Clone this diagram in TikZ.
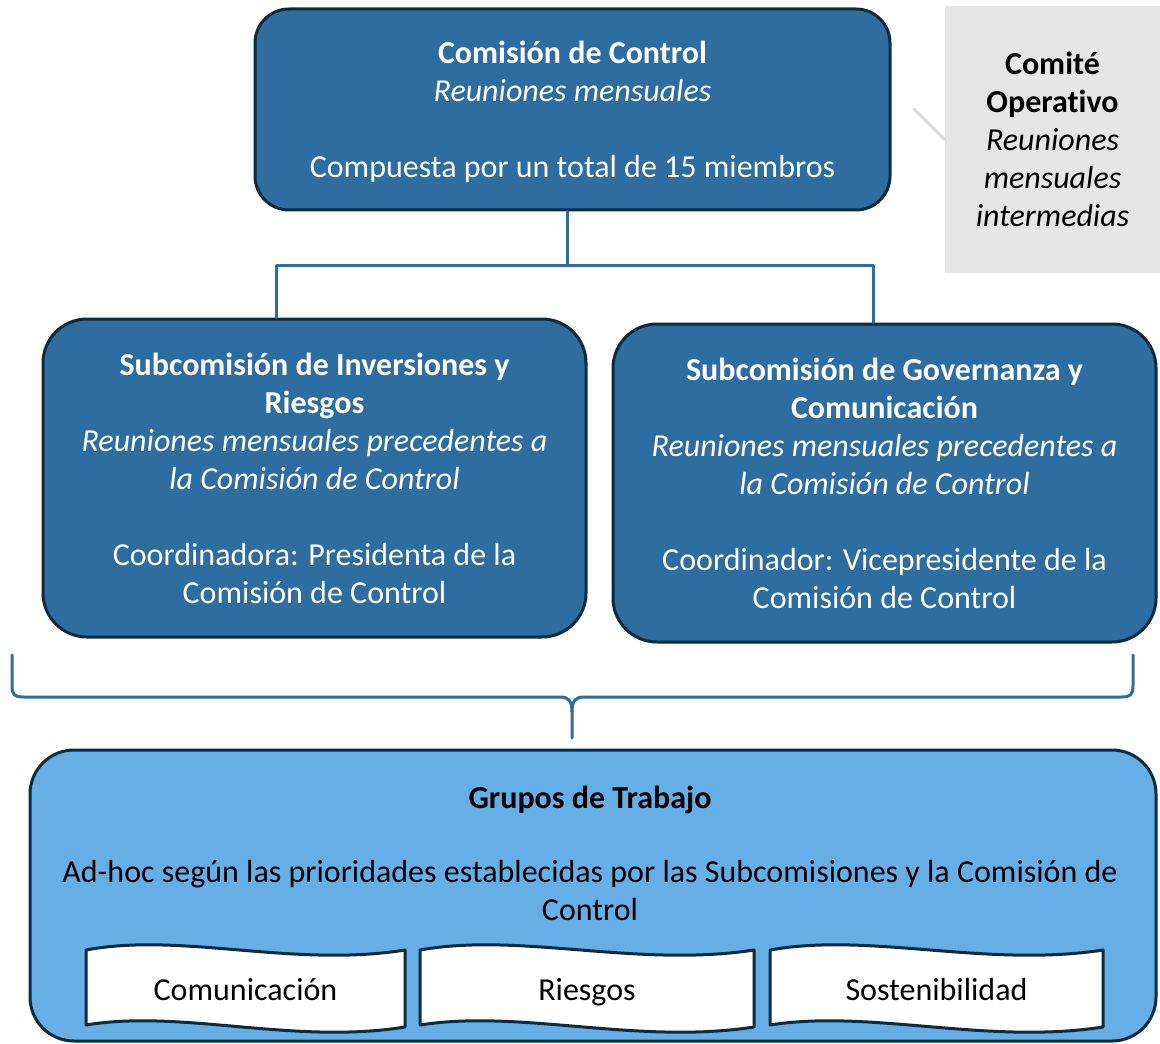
\documentclass[tikz,border=0pt]{standalone}
\usepackage{fontspec}
\setmainfont{Carlito}[RawFeature=-liga]
\usetikzlibrary{positioning,calc}
\definecolor{boxblue}{HTML}{2E6DA0}
\definecolor{edgenavy}{HTML}{0E2A3D}
\definecolor{grupblue}{HTML}{66AEE6}
\definecolor{opgray}{HTML}{E6E6E6}
\definecolor{faintgray}{HTML}{DADADA}

\begin{document}
\begin{tikzpicture}[x=0.5pt,y=-0.5pt,line cap=round,line join=round,
  every node/.style={font=\fontsize{16}{19}\selectfont,align=center,inner sep=0pt},
  bluebox/.style={draw=edgenavy,line width=1.5pt,fill=boxblue,text=white,rounded corners=22pt},
  conn/.style={draw=boxblue,line width=1.5pt},
  tape/.style={draw=edgenavy,line width=1.5pt,fill=white}]
\useasboundingbox (0,0) rectangle (1160,1043);

% Comision de Control
\node[bluebox,minimum width=317.5pt,minimum height=100.5pt,rounded corners=17pt] (cc) at (572.5,109.5) {};
\node[text=white] (cct) at (572.5,112)
  {\textbf{Comisión de Control}\\\textit{Reuniones mensuales}\\[19pt]Compuesta por un total de 15 miembros};

% Comite Operativo
\node[fill=opgray,minimum width=107.5pt,minimum height=133.5pt] (co) at (1052.5,139.5)
  {\textbf{Comité}\\\textbf{Operativo}\\\textit{Reuniones}\\\textit{mensuales}\\\textit{intermedias}};
\coordinate (fl) at (914,109);
\draw[faintgray,line width=1.5pt] (fl) -- (co.west);

% Subcomisiones
\node[bluebox,minimum width=271.5pt,minimum height=159pt] (sir) at (314.5,478)
  {\textbf{Subcomisión de Inversiones y}\\\textbf{Riesgos}\\\textit{Reuniones mensuales precedentes a}\\\textit{la Comisión de Control}\\[19pt]Coordinadora: Presidenta de la\\Comisión de Control};
\node[bluebox,minimum width=271.5pt,minimum height=159pt] (sgc) at (884.5,483)
  {\textbf{Subcomisión de Governanza y}\\\textbf{Comunicación}\\\textit{Reuniones mensuales precedentes a}\\\textit{la Comisión de Control}\\[19pt]Coordinador: Vicepresidente de la\\Comisión de Control};

\coordinate (jn) at (567,265);
\coordinate (jl) at (276,265);
\coordinate (jr) at (873,265);
\draw[conn] (jn |- cc.south) -- (jn);
\draw[conn] (jl |- sir.north) -- (jl) -- (jr) -- (jr |- sgc.north);

% llave
\coordinate (bl) at (12,655);
\coordinate (br) at (1133,655);
\coordinate (bt) at (572,738);
\draw[conn] (bl) -- (12,685) .. controls (12,695) and (14,697) .. (24,697) -- (560,697)
  .. controls (568,697) and (572,700) .. (572,712) -- (bt);
\draw[conn] (br) -- (1133,685) .. controls (1133,695) and (1131,697) .. (1121,697) -- (584,697)
  .. controls (576,697) and (572,700) .. (572,712);

% Grupos de Trabajo
\node[bluebox,fill=grupblue,minimum width=563pt,minimum height=145.5pt] (gt) at (593,895.5) {};
\node (gtt) at (590,800) {\textbf{Grupos de Trabajo}};
\node (gtd) at (590,890) {Ad-hoc según las prioridades establecidas por las Subcomisiones y la Comisión de\\Control};

\foreach \xa/\xb/\lbl/\nm in {86/405/Comunicación/gcom,420/754/Riesgos/gri,770/1103/Sostenibilidad/gso}{
  \pgfmathsetmacro\xp{\xa+0.3*(\xb-\xa)}
  \pgfmathsetmacro\xq{\xa+0.65*(\xb-\xa)}
  \draw[tape] (\xa,950) .. controls (\xp,932) and (\xq,968) .. (\xb,950) -- (\xb,1027)
    .. controls (\xq,1045) and (\xp,1009) .. (\xa,1025) -- cycle;
  \node[anchor=base] (\nm) at ({(\xa+\xb)/2},1000) {\lbl};
}
\end{tikzpicture}
\end{document}
